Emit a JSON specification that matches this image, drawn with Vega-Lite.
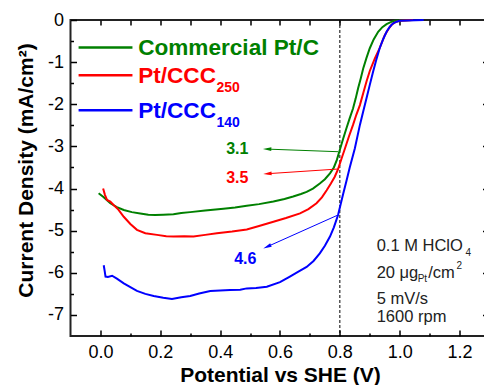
{
  "$schema": "https://vega.github.io/schema/vega-lite/v6.json",
  "width": 419,
  "height": 316,
  "autosize": {"type": "none"},
  "padding": {"left": 70.5, "top": 20, "right": 0, "bottom": 49},
  "config": {
    "font": "Liberation Sans",
    "view": {"stroke": "#222", "strokeWidth": 2},
    "axis": {"grid": false, "domain": false, "tickColor": "#000", "tickWidth": 1.5, "labelColor": "#000", "titleColor": "#000", "labelFont": "Liberation Sans", "titleFont": "Liberation Sans"}
  },
  "datasets": {
    "curves": [
      {"s": "g", "x": -0.006, "y": -4.11}, {"s": "g", "x": 0.01, "y": -4.2}, {"s": "g", "x": 0.033, "y": -4.35}, {"s": "g", "x": 0.055, "y": -4.44}, {"s": "g", "x": 0.078, "y": -4.51}, {"s": "g", "x": 0.105, "y": -4.56}, {"s": "g", "x": 0.133, "y": -4.59}, {"s": "g", "x": 0.16, "y": -4.62}, {"s": "g", "x": 0.183, "y": -4.63}, {"s": "g", "x": 0.21, "y": -4.62}, {"s": "g", "x": 0.244, "y": -4.61}, {"s": "g", "x": 0.27, "y": -4.58}, {"s": "g", "x": 0.3, "y": -4.56}, {"s": "g", "x": 0.35, "y": -4.52}, {"s": "g", "x": 0.411, "y": -4.48}, {"s": "g", "x": 0.45, "y": -4.45}, {"s": "g", "x": 0.489, "y": -4.41}, {"s": "g", "x": 0.53, "y": -4.37}, {"s": "g", "x": 0.578, "y": -4.31}, {"s": "g", "x": 0.615, "y": -4.25}, {"s": "g", "x": 0.644, "y": -4.19}, {"s": "g", "x": 0.67, "y": -4.13}, {"s": "g", "x": 0.689, "y": -4.08}, {"s": "g", "x": 0.71, "y": -4.0}, {"s": "g", "x": 0.733, "y": -3.88}, {"s": "g", "x": 0.75, "y": -3.78}, {"s": "g", "x": 0.767, "y": -3.64}, {"s": "g", "x": 0.78, "y": -3.5}, {"s": "g", "x": 0.79, "y": -3.32}, {"s": "g", "x": 0.8, "y": -3.08}, {"s": "g", "x": 0.811, "y": -2.82}, {"s": "g", "x": 0.822, "y": -2.57}, {"s": "g", "x": 0.833, "y": -2.33}, {"s": "g", "x": 0.844, "y": -2.1}, {"s": "g", "x": 0.853, "y": -1.86}, {"s": "g", "x": 0.861, "y": -1.62}, {"s": "g", "x": 0.87, "y": -1.38}, {"s": "g", "x": 0.878, "y": -1.15}, {"s": "g", "x": 0.889, "y": -0.9}, {"s": "g", "x": 0.9, "y": -0.67}, {"s": "g", "x": 0.913, "y": -0.46}, {"s": "g", "x": 0.928, "y": -0.28}, {"s": "g", "x": 0.942, "y": -0.17}, {"s": "g", "x": 0.956, "y": -0.1}, {"s": "g", "x": 0.97, "y": -0.05}, {"s": "g", "x": 0.983, "y": -0.02}, {"s": "g", "x": 1.0, "y": -0.01}, {"s": "g", "x": 1.04, "y": 0},
      {"s": "r", "x": 0.009, "y": -4.0}, {"s": "r", "x": 0.015, "y": -4.15}, {"s": "r", "x": 0.022, "y": -4.27}, {"s": "r", "x": 0.033, "y": -4.31}, {"s": "r", "x": 0.044, "y": -4.39}, {"s": "r", "x": 0.06, "y": -4.5}, {"s": "r", "x": 0.078, "y": -4.67}, {"s": "r", "x": 0.1, "y": -4.84}, {"s": "r", "x": 0.122, "y": -4.98}, {"s": "r", "x": 0.15, "y": -5.06}, {"s": "r", "x": 0.189, "y": -5.1}, {"s": "r", "x": 0.22, "y": -5.13}, {"s": "r", "x": 0.244, "y": -5.14}, {"s": "r", "x": 0.28, "y": -5.13}, {"s": "r", "x": 0.311, "y": -5.14}, {"s": "r", "x": 0.35, "y": -5.1}, {"s": "r", "x": 0.389, "y": -5.06}, {"s": "r", "x": 0.44, "y": -5.02}, {"s": "r", "x": 0.489, "y": -4.97}, {"s": "r", "x": 0.53, "y": -4.89}, {"s": "r", "x": 0.578, "y": -4.79}, {"s": "r", "x": 0.62, "y": -4.7}, {"s": "r", "x": 0.667, "y": -4.59}, {"s": "r", "x": 0.695, "y": -4.49}, {"s": "r", "x": 0.722, "y": -4.35}, {"s": "r", "x": 0.74, "y": -4.21}, {"s": "r", "x": 0.756, "y": -4.04}, {"s": "r", "x": 0.77, "y": -3.88}, {"s": "r", "x": 0.783, "y": -3.72}, {"s": "r", "x": 0.794, "y": -3.54}, {"s": "r", "x": 0.806, "y": -3.28}, {"s": "r", "x": 0.817, "y": -3.05}, {"s": "r", "x": 0.83, "y": -2.77}, {"s": "r", "x": 0.844, "y": -2.49}, {"s": "r", "x": 0.855, "y": -2.25}, {"s": "r", "x": 0.867, "y": -2.02}, {"s": "r", "x": 0.878, "y": -1.74}, {"s": "r", "x": 0.889, "y": -1.46}, {"s": "r", "x": 0.9, "y": -1.21}, {"s": "r", "x": 0.917, "y": -0.91}, {"s": "r", "x": 0.933, "y": -0.67}, {"s": "r", "x": 0.95, "y": -0.36}, {"s": "r", "x": 0.962, "y": -0.22}, {"s": "r", "x": 0.972, "y": -0.12}, {"s": "r", "x": 0.985, "y": -0.05}, {"s": "r", "x": 1.0, "y": -0.02}, {"s": "r", "x": 1.045, "y": 0},
      {"s": "b", "x": 0.011, "y": -5.82}, {"s": "b", "x": 0.014, "y": -5.95}, {"s": "b", "x": 0.017, "y": -6.09}, {"s": "b", "x": 0.025, "y": -6.1}, {"s": "b", "x": 0.039, "y": -6.07}, {"s": "b", "x": 0.055, "y": -6.14}, {"s": "b", "x": 0.078, "y": -6.25}, {"s": "b", "x": 0.1, "y": -6.34}, {"s": "b", "x": 0.122, "y": -6.43}, {"s": "b", "x": 0.15, "y": -6.5}, {"s": "b", "x": 0.178, "y": -6.55}, {"s": "b", "x": 0.21, "y": -6.59}, {"s": "b", "x": 0.239, "y": -6.62}, {"s": "b", "x": 0.27, "y": -6.58}, {"s": "b", "x": 0.3, "y": -6.55}, {"s": "b", "x": 0.33, "y": -6.49}, {"s": "b", "x": 0.367, "y": -6.43}, {"s": "b", "x": 0.4, "y": -6.42}, {"s": "b", "x": 0.433, "y": -6.41}, {"s": "b", "x": 0.467, "y": -6.4}, {"s": "b", "x": 0.489, "y": -6.37}, {"s": "b", "x": 0.52, "y": -6.36}, {"s": "b", "x": 0.556, "y": -6.33}, {"s": "b", "x": 0.6, "y": -6.22}, {"s": "b", "x": 0.633, "y": -6.09}, {"s": "b", "x": 0.66, "y": -5.98}, {"s": "b", "x": 0.689, "y": -5.86}, {"s": "b", "x": 0.712, "y": -5.72}, {"s": "b", "x": 0.733, "y": -5.54}, {"s": "b", "x": 0.75, "y": -5.36}, {"s": "b", "x": 0.767, "y": -5.14}, {"s": "b", "x": 0.78, "y": -4.92}, {"s": "b", "x": 0.794, "y": -4.63}, {"s": "b", "x": 0.8, "y": -4.45}, {"s": "b", "x": 0.811, "y": -4.13}, {"s": "b", "x": 0.822, "y": -3.82}, {"s": "b", "x": 0.833, "y": -3.5}, {"s": "b", "x": 0.85, "y": -3.05}, {"s": "b", "x": 0.867, "y": -2.49}, {"s": "b", "x": 0.878, "y": -2.17}, {"s": "b", "x": 0.889, "y": -1.86}, {"s": "b", "x": 0.9, "y": -1.54}, {"s": "b", "x": 0.911, "y": -1.23}, {"s": "b", "x": 0.922, "y": -0.94}, {"s": "b", "x": 0.933, "y": -0.67}, {"s": "b", "x": 0.945, "y": -0.45}, {"s": "b", "x": 0.956, "y": -0.28}, {"s": "b", "x": 0.967, "y": -0.16}, {"s": "b", "x": 0.978, "y": -0.08}, {"s": "b", "x": 0.99, "y": -0.04}, {"s": "b", "x": 1.0, "y": -0.02}, {"s": "b", "x": 1.08, "y": 0}
    ],
    "legendLines": [
      {"s": "g", "x": -0.073, "x2": 0.107, "y": -0.65},
      {"s": "r", "x": -0.073, "x2": 0.107, "y": -1.31},
      {"s": "b", "x": -0.073, "x2": 0.107, "y": -2.14}
    ],
    "legendText": [
      {"s": "g", "x": 0.126, "y": -0.83, "t": "Commercial Pt/C"},
      {"s": "r", "x": 0.126, "y": -1.495, "t": "Pt/CCC"},
      {"s": "b", "x": 0.126, "y": -2.326, "t": "Pt/CCC"}
    ],
    "legendSub": [
      {"s": "r", "x": 0.388, "y": -1.7, "t": "250"},
      {"s": "b", "x": 0.388, "y": -2.54, "t": "140"}
    ],
    "arrows": [
      {"s": "g", "x": 0.794, "y": -3.126, "x2": 0.557, "y2": -3.064},
      {"s": "r", "x": 0.794, "y": -3.537, "x2": 0.558, "y2": -3.648},
      {"s": "b", "x": 0.794, "y": -4.628, "x2": 0.557, "y2": -5.381}
    ],
    "heads": [
      {"s": "g", "x": 0.557, "y": -3.064, "a": 2},
      {"s": "r", "x": 0.558, "y": -3.648, "a": -4},
      {"s": "b", "x": 0.557, "y": -5.381, "a": -24}
    ],
    "values": [
      {"s": "g", "x": 0.42, "y": -3.176, "t": "3.1"},
      {"s": "r", "x": 0.42, "y": -3.865, "t": "3.5"},
      {"s": "b", "x": 0.447, "y": -5.78, "t": "4.6"}
    ],
    "cond": [
      {"x": 0.923, "y": -5.364, "t": "0.1 M HClO"},
      {"x": 0.923, "y": -6.01, "t": "20 μg"},
      {"x": 1.095, "y": -6.01, "t": "/cm"},
      {"x": 0.923, "y": -6.61, "t": "5 mV/s"},
      {"x": 0.923, "y": -7.06, "t": "1600 rpm"}
    ],
    "condSmall": [
      {"x": 1.22, "y": -5.53, "t": "4"},
      {"x": 1.06, "y": -6.15, "t": "Pt"},
      {"x": 1.19, "y": -5.84, "t": "2"}
    ]
  },
  "resolve": {"axis": {"x": "independent", "y": "independent"}},
  "layer": [
    {
      "data": {"values": [{"v": 0.8}]},
      "mark": {"type": "rule", "color": "#000", "strokeWidth": 1, "strokeDash": [3, 2]},
      "encoding": {
        "x": {"datum": 0.8, "type": "quantitative", "scale": {"domain": [-0.1, 1.3], "nice": false, "zero": false},
          "axis": {"orient": "top", "values": [0, 0.1, 0.2, 0.3, 0.4, 0.5, 0.6, 0.7, 0.8, 0.9, 1.0, 1.1, 1.2], "labels": false, "tickSize": -5, "title": null}},
        "y": {"datum": 0, "type": "quantitative", "scale": {"domain": [-7.5, 0], "nice": false, "zero": false},
          "axis": {"orient": "right", "values": [-7, -6, -5, -4, -3, -2, -1], "labels": false, "tickSize": -7, "title": null}},
        "y2": {"datum": -7.5}
      }
    },
    {
      "data": {"name": "curves"},
      "mark": {"type": "line", "strokeWidth": 2},
      "encoding": {
        "x": {"field": "x", "type": "quantitative", "scale": {"domain": [-0.1, 1.3], "nice": false, "zero": false},
          "axis": {"orient": "bottom", "values": [0, 0.1, 0.2, 0.3, 0.4, 0.5, 0.6, 0.7, 0.8, 0.9, 1.0, 1.1, 1.2],
            "labelExpr": "round(datum.value*10)%2==0 ? format(datum.value,'.1f') : ''",
            "tickSize": {"condition": {"test": "round(datum.value*10)%2!=0", "value": -3}, "value": -6},
            "labelFontSize": 18, "labelPadding": 13, "labelFlush": false, "labelOverlap": false,
            "title": "Potential vs SHE (V)", "titleFontSize": 21, "titleFontWeight": "bold", "titleBaseline": "alphabetic", "titleY": 45}},
        "y": {"field": "y", "type": "quantitative", "scale": {"domain": [-7.5, 0], "nice": false, "zero": false},
          "axis": {"orient": "left", "values": [-7, -6.5, -6, -5.5, -5, -4.5, -4, -3.5, -3, -2.5, -2, -1.5, -1, -0.5, 0],
            "labelExpr": "datum.value == round(datum.value) ? '' + datum.value : ''",
            "tickSize": {"condition": {"test": "datum.value != round(datum.value)", "value": -3}, "value": -6},
            "labelFontSize": 18, "labelPadding": 13, "labelFlush": false, "labelOverlap": false,
            "title": "Current Density (mA/cm²)", "titleFontSize": 21, "titleFontWeight": "bold", "titleBaseline": "alphabetic", "titleX": -38, "titleY": 150, "titleAngle": 270}},
        "color": {"field": "s", "type": "nominal", "scale": {"domain": ["g", "r", "b"], "range": ["#008000", "#ff0000", "#0000ff"]}, "legend": null},
        "detail": {"field": "s"}
      }
    },
    {
      "data": {"name": "legendLines"},
      "mark": {"type": "rule", "strokeWidth": 2.5},
      "encoding": {
        "x": {"field": "x", "type": "quantitative", "axis": null},
        "x2": {"field": "x2"},
        "y": {"field": "y", "type": "quantitative", "axis": null},
        "color": {"field": "s", "type": "nominal", "legend": null}
      }
    },
    {
      "data": {"name": "legendText"},
      "mark": {"type": "text", "align": "left", "baseline": "alphabetic", "fontSize": 22.6, "fontWeight": "bold"},
      "encoding": {
        "x": {"field": "x", "type": "quantitative", "axis": null},
        "y": {"field": "y", "type": "quantitative", "axis": null},
        "text": {"field": "t"},
        "color": {"field": "s", "type": "nominal", "legend": null}
      }
    },
    {
      "data": {"name": "legendSub"},
      "mark": {"type": "text", "align": "left", "baseline": "alphabetic", "fontSize": 14, "fontWeight": "bold"},
      "encoding": {
        "x": {"field": "x", "type": "quantitative", "axis": null},
        "y": {"field": "y", "type": "quantitative", "axis": null},
        "text": {"field": "t"},
        "color": {"field": "s", "type": "nominal", "legend": null}
      }
    },
    {
      "data": {"name": "arrows"},
      "mark": {"type": "rule", "strokeWidth": 1},
      "encoding": {
        "x": {"field": "x", "type": "quantitative", "axis": null},
        "y": {"field": "y", "type": "quantitative", "axis": null},
        "x2": {"field": "x2"},
        "y2": {"field": "y2"},
        "color": {"field": "s", "type": "nominal", "legend": null}
      }
    },
    {
      "data": {"name": "heads"},
      "mark": {"type": "point", "shape": "M -1 0 L 1 -0.45 L 1 0.45 Z", "filled": true, "size": 70, "opacity": 1},
      "encoding": {
        "x": {"field": "x", "type": "quantitative", "axis": null},
        "y": {"field": "y", "type": "quantitative", "axis": null},
        "angle": {"field": "a", "type": "quantitative", "scale": null},
        "color": {"field": "s", "type": "nominal", "legend": null}
      }
    },
    {
      "data": {"name": "values"},
      "mark": {"type": "text", "align": "left", "baseline": "alphabetic", "fontSize": 16, "fontWeight": "bold"},
      "encoding": {
        "x": {"field": "x", "type": "quantitative", "axis": null},
        "y": {"field": "y", "type": "quantitative", "axis": null},
        "text": {"field": "t"},
        "color": {"field": "s", "type": "nominal", "legend": null}
      }
    },
    {
      "data": {"name": "cond"},
      "mark": {"type": "text", "align": "left", "baseline": "middle", "fontSize": 16.5, "color": "#222"},
      "encoding": {
        "x": {"field": "x", "type": "quantitative", "axis": null},
        "y": {"field": "y", "type": "quantitative", "axis": null},
        "text": {"field": "t"}
      }
    },
    {
      "data": {"name": "condSmall"},
      "mark": {"type": "text", "align": "left", "baseline": "middle", "fontSize": 10, "color": "#222"},
      "encoding": {
        "x": {"field": "x", "type": "quantitative", "axis": null},
        "y": {"field": "y", "type": "quantitative", "axis": null},
        "text": {"field": "t"}
      }
    }
  ]
}
